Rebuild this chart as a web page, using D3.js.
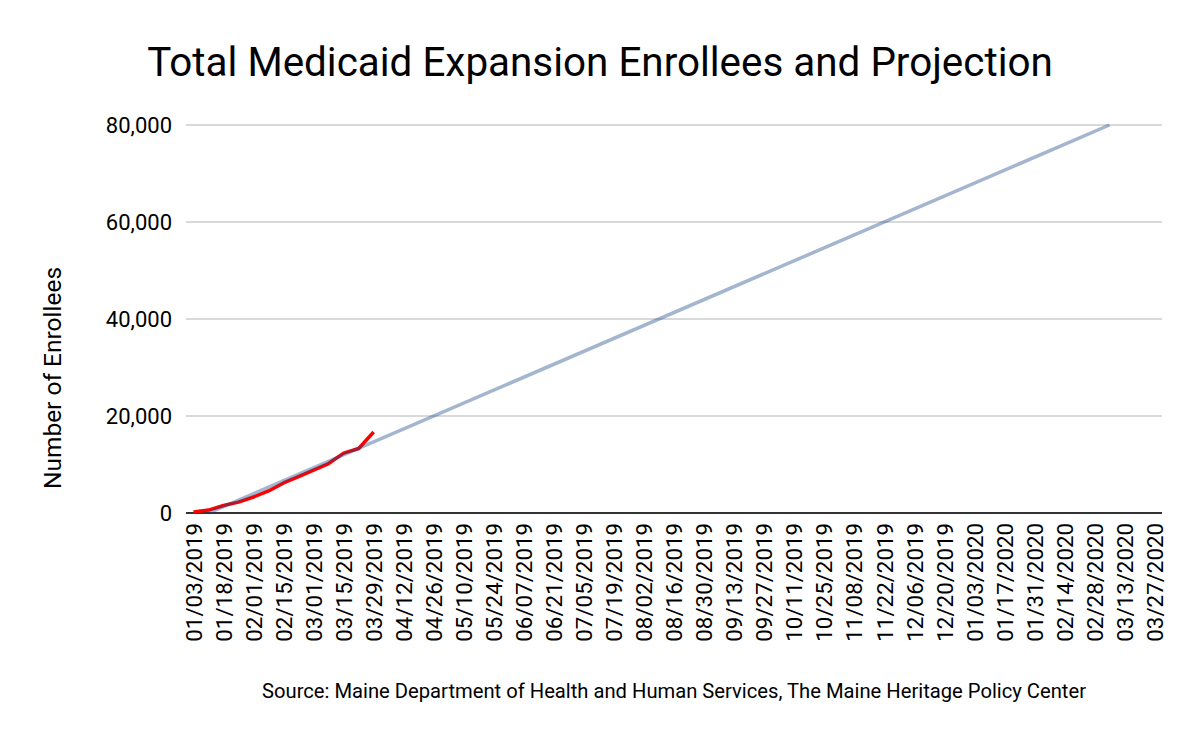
<!DOCTYPE html>
<html lang="en">
<head>
<meta charset="utf-8">
<title>Total Medicaid Expansion Enrollees and Projection</title>
<script src="https://cdn.jsdelivr.net/npm/d3@7"></script>
<style>
  body {
    margin: 0;
    padding: 0;
    background: #fff;
  }
  svg text {
    font-family: Roboto, "Noto Sans", sans-serif;
    fill: #000;
  }
</style>
</head>
<body>
<svg id="chart" width="1200" height="742"></svg>
<script>
// weekly categories shown on the x axis (every other one is labelled)
const dates = [
  "01/03/2019", "01/11/2019", "01/18/2019", "01/25/2019", "02/01/2019", "02/08/2019",
  "02/15/2019", "02/22/2019", "03/01/2019", "03/08/2019", "03/15/2019", "03/22/2019",
  "03/29/2019", "04/05/2019", "04/12/2019", "04/19/2019", "04/26/2019", "05/03/2019",
  "05/10/2019", "05/17/2019", "05/24/2019", "05/31/2019", "06/07/2019", "06/14/2019",
  "06/21/2019", "06/28/2019", "07/05/2019", "07/12/2019", "07/19/2019", "07/26/2019",
  "08/02/2019", "08/09/2019", "08/16/2019", "08/23/2019", "08/30/2019", "09/06/2019",
  "09/13/2019", "09/20/2019", "09/27/2019", "10/04/2019", "10/11/2019", "10/18/2019",
  "10/25/2019", "11/01/2019", "11/08/2019", "11/15/2019", "11/22/2019", "11/29/2019",
  "12/06/2019", "12/13/2019", "12/20/2019", "12/27/2019", "01/03/2020", "01/10/2020",
  "01/17/2020", "01/24/2020", "01/31/2020", "02/07/2020", "02/14/2020", "02/21/2020",
  "02/28/2020", "03/06/2020", "03/13/2020", "03/20/2020", "03/27/2020"
];

// actual enrollees (red)
const actualDates = [
  "01/03/2019", "01/11/2019", "01/18/2019", "01/25/2019", "02/01/2019", "02/08/2019",
  "02/15/2019", "02/22/2019", "03/01/2019", "03/08/2019", "03/15/2019", "03/22/2019",
  "03/29/2019"
];
const actualValues = [200, 600, 1550, 2250, 3300, 4550, 6200, 7500, 8850, 10200, 12350, 13300, 16700];

// straight-line projection (blue)
const projectionDates = ["01/11/2019", "03/06/2020"];
const projectionValues = [0, 80000];

const yTicks = [0, 20000, 40000, 60000, 80000];

const svg = d3.select("#chart");
const margin = {top: 125, right: 38, bottom: 229, left: 186};
const width = 1200 - margin.left - margin.right;
const height = 742 - margin.top - margin.bottom;

const x = d3.scalePoint()
  .domain(dates)
  .range([0, width])
  .padding(0.5);

const y = d3.scaleLinear()
  .domain([0, 80000])
  .range([height, 0]);

const g = svg.append("g")
  .attr("transform", `translate(${margin.left},${margin.top})`);

// title
svg.append("text")
  .attr("x", 600)
  .attr("y", 76)
  .attr("text-anchor", "middle")
  .style("font-size", "40.4px")
  .text("Total Medicaid Expansion Enrollees and Projection");

// gridlines
g.append("g")
  .selectAll("line")
  .data(yTicks.filter(d => d > 0))
  .join("line")
  .attr("x1", 0)
  .attr("x2", width)
  .attr("y1", d => y(d))
  .attr("y2", d => y(d))
  .attr("stroke", "#cccccc")
  .attr("stroke-width", 1.5);

// y axis labels
const yAxis = g.append("g")
  .call(d3.axisLeft(y).tickValues(yTicks).tickFormat(d3.format(",")).tickSize(0).tickPadding(14));
yAxis.select(".domain").remove();
yAxis.selectAll("text")
  .style("font-size", "22px")
  .style("font-family", "Roboto, sans-serif");

// x axis
const xAxis = g.append("g")
  .attr("transform", `translate(0,${height})`)
  .call(d3.axisBottom(x).tickValues(dates.filter((d, i) => i % 2 === 0)).tickSize(0));
xAxis.select(".domain").remove();
xAxis.selectAll("text")
  .attr("transform", "rotate(-90)")
  .attr("x", -10)
  .attr("y", 0)
  .attr("dy", "0.35em")
  .attr("text-anchor", "end")
  .style("font-size", "22.3px")
  .style("font-family", "Roboto, sans-serif");

g.append("line")
  .attr("x1", 0)
  .attr("x2", width)
  .attr("y1", y(0))
  .attr("y2", y(0))
  .attr("stroke", "#333333")
  .attr("stroke-width", 2);

// y axis title
svg.append("text")
  .attr("transform", "translate(61,378) rotate(-90)")
  .attr("text-anchor", "middle")
  .style("font-size", "24.5px")
  .text("Number of Enrollees");

// lines
const line = d3.line()
  .x(d => x(d[0]))
  .y(d => y(d[1]));

g.append("path")
  .datum(d3.zip(actualDates, actualValues))
  .attr("fill", "none")
  .attr("stroke", "#ff0000")
  .attr("stroke-width", 3.5)
  .attr("stroke-linejoin", "round")
  .attr("d", line);

g.append("path")
  .datum(d3.zip(projectionDates, projectionValues))
  .attr("fill", "none")
  .attr("stroke", "#1c4587")
  .attr("stroke-opacity", 0.4)
  .attr("stroke-width", 3.5)
  .attr("d", line);

// source
svg.append("text")
  .attr("x", 674)
  .attr("y", 698)
  .attr("text-anchor", "middle")
  .style("font-size", "20.2px")
  .text("Source: Maine Department of Health and Human Services, The Maine Heritage Policy Center");
</script>
</body>
</html>
